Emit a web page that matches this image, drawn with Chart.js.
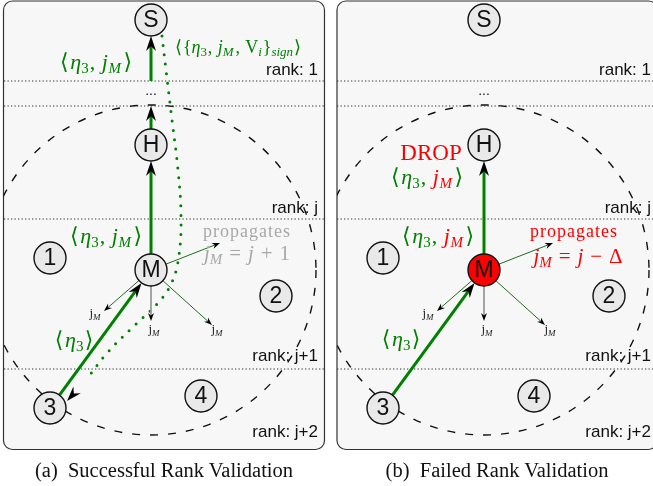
<!DOCTYPE html>
<html>
<head>
<meta charset="utf-8">
<script src="https://cdn.jsdelivr.net/npm/chart.js@4/dist/chart.umd.min.js"></script>
<style>
  body { margin: 0; width: 653px; height: 486px; overflow: hidden; background: #fff; position: relative; }
  canvas { position: absolute; top: 0; }
  #panelA { left: 0; }
  #panelB { left: 333px; }
  .cap { position: absolute; top: 459px; font: 20.5px "Liberation Serif", "DejaVu Serif", serif; color: #111; white-space: pre; transform: translateX(-50%); }
</style>
</head>
<body>
<canvas id="panelA" width="333" height="486"></canvas>
<canvas id="panelB" width="333" height="486"></canvas>
<div class="cap" style="left:164px">(a)  Successful Rank Validation</div>
<div class="cap" style="left:497px">(b)  Failed Rank Validation</div>
<script>
// node layout, in panel units (both panels share it)
const nodeNames = ['S', 'H', 'M', '1', '2', '3', '4'];
const nodeX = [151, 151, 151, 50, 276, 50, 201];
const nodeY = [20, 145, 270, 258, 296, 408, 396];
const nodeR = 16;

// rank bands
const rankLabels = ['rank: 1', 'rank: j', 'rank: j+1', 'rank: j+2'];
const rankLabelY = [70, 208, 356, 432];
const rankLineY = [81, 106, 219, 369];

// thick forwarding hops; the H -> S hop is cut by the "..." band
const hopsA = [['3', 'M'], ['M', 'H'], ['H', [151, 106]], [[151, 81], 'S']];
const hopsB = [['3', 'M'], ['M', 'H']];

// thin arrows M sends out
const fanX = [220, 104, 151, 212];
const fanY = [243, 311, 321, 325];
const fanGrey = [false, false, true, false];

// dotted reply path in (a), from S back down to 3
const replyX = [162, 166, 172, 178, 181, 179, 172, 158, 135, 108, 86, 67];
const replyY = [36, 70, 120, 170, 215, 255, 282, 303, 325, 352, 380, 401];

const GREEN = '#008000', RED = '#ff0000', GREY = '#a8a8a8';
const SERIF = '"Liberation Serif", "DejaVu Serif", serif';
const SANS = '"Liberation Sans", Arial, sans-serif';

function nodePos(ref) {
  if (Array.isArray(ref)) return { x: ref[0], y: ref[1], r: 0 };
  const i = nodeNames.indexOf(ref);
  return { x: nodeX[i], y: nodeY[i], r: nodeR };
}

function segment(a, b, headLen) {
  const dx = b.x - a.x, dy = b.y - a.y, d = Math.hypot(dx, dy);
  const ux = dx / d, uy = dy / d;
  const tip = { x: b.x - ux * b.r, y: b.y - uy * b.r };
  return {
    line: [{ x: a.x + ux * a.r, y: a.y + uy * a.r }, { x: tip.x - ux * headLen * 0.6, y: tip.y - uy * headLen * 0.6 }],
    tip, ang: Math.atan2(uy, ux), len: headLen
  };
}

function arrowHead(ctx, x, y, ang, len, wid) {
  ctx.save();
  ctx.translate(x, y);
  ctx.rotate(ang);
  ctx.beginPath();
  ctx.moveTo(0, 0);
  ctx.lineTo(-len, wid / 2);
  ctx.lineTo(-len * 0.68, 0);
  ctx.lineTo(-len, -wid / 2);
  ctx.closePath();
  ctx.fillStyle = '#000';
  ctx.fill();
  ctx.restore();
}

// runs: [text, kind, colour, gapAfter(em)]; kind r = roman, i = italic, s = roman sub, si = italic sub
function drawMath(ctx, runs, x, y, size, spacing) {
  const sub = k => k === 's' || k === 'si';
  const font = k => (k === 'i' || k === 'si' ? 'italic ' : '') +
    Math.round(sub(k) ? size * 0.7 : size) + 'px ' + SERIF;
  ctx.letterSpacing = (spacing || 0) + 'px';
  let w = 0;
  runs.forEach(r => { ctx.font = font(r[1]); w += ctx.measureText(r[0]).width + (r[3] || 0) * size; });
  let cx = x - w / 2;
  ctx.textAlign = 'left';
  ctx.textBaseline = 'middle';
  runs.forEach(r => {
    ctx.font = font(r[1]);
    ctx.fillStyle = r[2];
    ctx.fillText(r[0], cx, y + (sub(r[1]) ? size * 0.28 : 0));
    cx += ctx.measureText(r[0]).width + (r[3] || 0) * size;
  });
  ctx.letterSpacing = '0px';
}

function etaJ(cj) {
  const g = GREEN;
  return [['\u27E8', 'r', g, 0.08], ['\u03B7', 'i', g], ['3', 's', g, 0.05], [',', 'r', g, 0.3],
    ['j', 'i', cj, 0.02], ['M', 'si', cj, 0.12], ['\u27E9', 'r', g]];
}
const etaOnly = [['\u27E8', 'r', GREEN, 0.08], ['\u03B7', 'i', GREEN], ['3', 's', GREEN, 0.06], ['\u27E9', 'r', GREEN]];
const signed = [['\u27E8', 'r', GREEN, 0.05], ['{', 'r', GREEN], ['\u03B7', 'i', GREEN], ['3', 's', GREEN, 0.05], [',', 'r', GREEN, 0.3],
  ['j', 'i', GREEN], ['M', 'si', GREEN, 0.1], [',', 'r', GREEN, 0.3], ['V', 'r', GREEN], ['i', 'si', GREEN, 0.05],
  ['}', 'r', GREEN], ['sign', 'si', GREEN, 0.05], ['\u27E9', 'r', GREEN]];
const smallJ = [['j', 'r', '#222'], ['M', 'si', '#222']];

function jEquation(c, rhs) {
  return [['j', 'i', c], ['M', 'si', c, 0.33], ['=', 'r', c, 0.33], ['j', 'i', c, 0.33], [rhs[0], 'r', c, 0.33], [rhs[1], 'r', c]];
}

function buildPanel(id, failed) {
  const hops = failed ? hopsB : hopsA;
  const heads = [];
  const datasets = [{
    data: nodeX.map((x, i) => ({ x, y: nodeY[i] })),
    pointRadius: nodeR,
    pointBackgroundColor: nodeNames.map(n => failed && n === 'M' ? RED : '#e9e9e9'),
    pointBorderColor: '#111',
    pointBorderWidth: 1.4,
    showLine: false,
    order: 0
  }];

  hops.forEach(h => {
    const s = segment(nodePos(h[0]), nodePos(h[1]), 15);
    heads.push([s.tip.x, s.tip.y, s.ang, 15, 10]);
    datasets.push({ data: s.line, showLine: true, borderColor: GREEN, borderWidth: 3, pointRadius: 0, order: 2 });
  });

  fanX.forEach((fx, i) => {
    const s = segment(nodePos('M'), { x: fx, y: fanY[i], r: 0 }, 8);
    heads.push([s.tip.x, s.tip.y, s.ang, 8, 6]);
    datasets.push({ data: s.line, showLine: true, borderColor: fanGrey[i] ? '#999' : '#1f6e1f', borderWidth: 1, pointRadius: 0, order: 2 });
  });

  if (!failed) {
    const n = replyX.length;
    heads.push([replyX[n - 1], replyY[n - 1], Math.atan2(replyY[n - 1] - replyY[n - 2], replyX[n - 1] - replyX[n - 2]), 15, 10]);
    datasets.push({
      data: replyX.slice(0, n - 1).map((x, i) => ({ x, y: replyY[i] })),
      showLine: true, tension: 0.4, borderColor: GREEN, borderWidth: 3,
      borderDash: [0, 9.5], borderCapStyle: 'round', pointRadius: 0, order: 3
    });
  }

  rankLineY.forEach(y => datasets.push({
    data: [{ x: 4, y }, { x: 324, y }], showLine: true, borderColor: '#333', borderWidth: 1,
    borderDash: [1.3, 2.2], pointRadius: 0, order: 4
  }));

  const panelPlugin = {
    id: 'panel' + id,
    beforeDatasetsDraw(chart) {
      const { ctx, scales: { x, y } } = chart;
      const bx = x.getPixelForValue(failed ? 4 : 3.5), by = y.getPixelForValue(1);
      const bw = x.getPixelForValue(324.5) - bx, bh = y.getPixelForValue(449.5) - by;
      ctx.save();
      ctx.beginPath();
      ctx.roundRect(bx, by, bw, bh, 9);
      ctx.fillStyle = '#f7f7f7';
      ctx.fill();
      ctx.strokeStyle = '#333';
      ctx.lineWidth = 1.2;
      ctx.stroke();
      ctx.clip();
      const m = nodePos('M');
      ctx.beginPath();
      ctx.arc(x.getPixelForValue(m.x), y.getPixelForValue(m.y), y.getPixelForValue(m.y) - y.getPixelForValue(105), 0, Math.PI * 2);
      ctx.setLineDash([8, 10]);
      ctx.strokeStyle = '#111';
      ctx.lineWidth = 1.4;
      ctx.stroke();
      ctx.restore();
    },
    afterDatasetsDraw(chart) {
      const { ctx, scales: { x, y } } = chart;
      const px = v => x.getPixelForValue(v), py = v => y.getPixelForValue(v);
      ctx.save();
      heads.forEach(h => arrowHead(ctx, px(h[0]), py(h[1]), h[2], h[3], h[4]));

      ctx.fillStyle = '#111';
      ctx.textAlign = 'center';
      ctx.textBaseline = 'middle';
      ctx.font = '23px ' + SANS;
      nodeNames.forEach((n, i) => ctx.fillText(n, px(nodeX[i]), py(nodeY[i]) + 1));

      ctx.font = '17px ' + SANS;
      ctx.textAlign = 'right';
      rankLabels.forEach((t, i) => ctx.fillText(t, px(318), py(rankLabelY[i])));
      ctx.textAlign = 'center';
      ctx.font = '14px ' + SANS;
      ctx.fillText('...', px(151), py(91));

      if (!failed) {
        drawMath(ctx, etaJ(GREEN), px(96), py(63), 22);
        drawMath(ctx, signed, px(238), py(48), 18);
        drawMath(ctx, etaJ(GREEN), px(106), py(237), 22);
        drawMath(ctx, [['propagates', 'r', GREY]], px(247), py(232), 18, 1);
        drawMath(ctx, jEquation(GREY, ['+', '1']), px(247), py(254), 21);
        drawMath(ctx, etaOnly, px(74), py(341), 22);
      } else {
        drawMath(ctx, [['DROP', 'r', RED]], px(98), py(154), 23);
        drawMath(ctx, etaJ(RED), px(94), py(178), 22);
        drawMath(ctx, etaJ(RED), px(105), py(237), 22);
        drawMath(ctx, [['propagates', 'r', RED]], px(241), py(232), 18, 1);
        drawMath(ctx, jEquation(RED, ['\u2212', '\u0394']), px(245), py(257), 21);
        drawMath(ctx, etaOnly, px(68), py(340), 22);
      }
      drawMath(ctx, smallJ, px(95), py(314), 13);
      drawMath(ctx, smallJ, px(154), py(330), 13);
      drawMath(ctx, smallJ, px(217), py(330), 13);
      ctx.restore();
    }
  };

  new Chart(document.getElementById(id), {
    type: 'scatter',
    data: { datasets },
    options: {
      responsive: false,
      animation: false,
      devicePixelRatio: 1,
      events: [],
      layout: { padding: 0, autoPadding: false },
      scales: {
        x: { type: 'linear', min: 0, max: 333, display: false },
        y: { type: 'linear', min: 0, max: 486, reverse: true, display: false }
      },
      plugins: { legend: { display: false }, tooltip: { enabled: false } }
    },
    plugins: [panelPlugin]
  });
}

buildPanel('panelA', false);
buildPanel('panelB', true);
</script>
</body>
</html>
